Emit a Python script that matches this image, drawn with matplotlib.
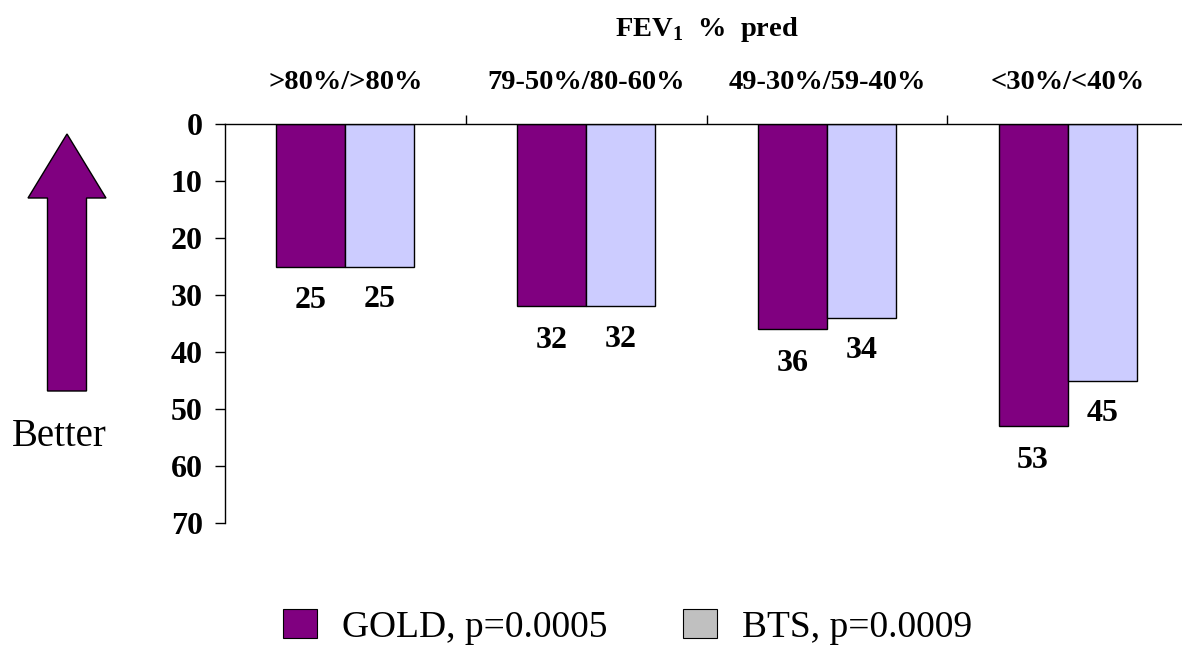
import matplotlib
matplotlib.use("Agg")
import matplotlib.pyplot as plt
from matplotlib.patches import Patch, FancyArrow
import numpy as np

categories = [">80%/>80%", "79-50%/80-60%", "49-30%/59-40%", "<30%/<40%"]
gold = [25, 32, 36, 53]
bts = [25, 32, 34, 45]
yticks = [0, 10, 20, 30, 40, 50, 60, 70]
series_names = ["GOLD, p=0.0005", "BTS, p=0.0009"]

plt.rcParams['font.family'] = ['Liberation Serif', 'DejaVu Serif']

W, H = 1182, 648
fig = plt.figure(figsize=(W/100, H/100), dpi=100)
ax_l, ax_r = 225, 1188
ax_t, ax_b = 124, 523
ax = fig.add_axes([ax_l/W, 1-ax_b/H, (ax_r-ax_l)/W, (ax_b-ax_t)/H])

purple = "#800080"
lav = "#ccccff"
x = np.arange(len(categories)) + 0.5
bw = 0.287
ax.bar(x - bw/2, gold, bw, color=purple, edgecolor="black", linewidth=1)
ax.bar(x + bw/2, bts, bw, color=lav, edgecolor="black", linewidth=1)

ax.set_xlim(0, len(categories))
ax.set_ylim(70, 0)
ax.set_yticks(yticks)
ax.set_yticklabels([str(t) for t in yticks], fontsize=23, fontweight="bold")
ax.tick_params(axis="y", length=7, width=1, pad=9, direction="out")
ax.xaxis.tick_top()
ax.set_xticks(np.arange(1, len(categories)))
ax.set_xticklabels([])
ax.tick_params(axis="x", length=6.5, width=1, direction="out")
for s in ["right", "bottom"]:
    ax.spines[s].set_visible(False)
for s in ["left", "top"]:
    ax.spines[s].set_linewidth(1)

for i in range(len(categories)):
    ax.text(x[i] - bw/2, gold[i] + 6.0, str(gold[i]), ha="center", va="center",
            fontsize=23, fontweight="bold")
    ax.text(x[i] + bw/2, bts[i] + 5.8, str(bts[i]), ha="center", va="center",
            fontsize=23, fontweight="bold")
    ax.text(x[i], -7.3, categories[i], ha="center", va="center",
            fontsize=20.5, fontweight="bold", clip_on=False)

fig.text(707/W, 1-30/H, "FEV$_\\mathregular{1}$  %  pred", ha="center", va="center",
         fontsize=20.5, fontweight="bold")

# arrow "Better"
arr = FancyArrow(67/W, 1-391/H, 0, (391-134)/H, width=39/W, head_width=78/W,
                 head_length=64/H, length_includes_head=True,
                 transform=fig.transFigure, facecolor=purple, edgecolor="black",
                 linewidth=1)
fig.patches.append(arr)
fig.text(59/W, 1-436/H, "Better", ha="center", va="center", fontsize=28)

handles = [Patch(facecolor=purple, edgecolor="black", linewidth=0.8),
           Patch(facecolor="#c0c0c0", edgecolor="black", linewidth=0.8)]
leg_fs = 27
em = leg_fs * 100 / 72.0
def make_legend(colsp):
    return fig.legend(handles, series_names, loc="center left",
                      bbox_to_anchor=(283/W, 1-627/H), ncol=2, frameon=False,
                      fontsize=leg_fs, handlelength=34/em, handleheight=30/em,
                      handletextpad=25/em, columnspacing=colsp,
                      borderpad=0, borderaxespad=0)
leg = make_legend(3.0)
fig.canvas.draw()
r = fig.canvas.get_renderer()
t0 = leg.get_texts()[0].get_window_extent(r)
needed = (683 - t0.x1) / em
leg.remove()
leg = make_legend(max(needed, 0.5))

fig.savefig("out.png", dpi=100)
